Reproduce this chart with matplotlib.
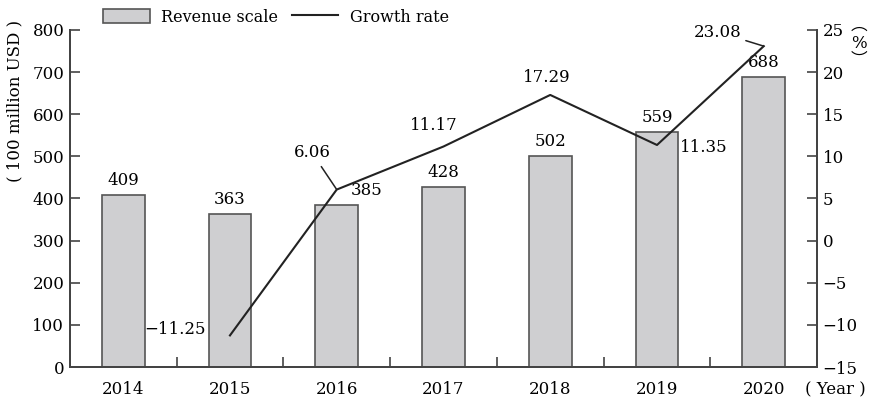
import numpy as np
import matplotlib.pyplot as plt
from matplotlib.ticker import FixedLocator

years = ["2014", "2015", "2016", "2017", "2018", "2019", "2020"]
revenue = [409, 363, 385, 428, 502, 559, 688]
growth = [None, -11.25, 6.06, 11.17, 17.29, 11.35, 23.08]

plt.rcParams['font.family'] = ['DejaVu Serif']
plt.rcParams['font.size'] = 12

fig = plt.figure(figsize=(8.73, 4.03), dpi=100)
ax = fig.add_axes([0.080, 0.0893, 0.856, 0.8363])
ax2 = ax.twinx()

x = np.arange(len(years))
bars = ax.bar(x, revenue, width=0.4, color="#cfcfd1", edgecolor="#555555",
              linewidth=1.2, label="Revenue scale")

gx = [i for i, g in enumerate(growth) if g is not None]
gy = [g for g in growth if g is not None]
line, = ax2.plot(gx, gy, color="#222222", linewidth=1.5, label="Growth rate")

ax.set_xlim(-0.5, 6.5)
ax.set_ylim(0, 800)
ax2.set_ylim(-15, 25)
ax.set_yticks(range(0, 801, 100))
ax2.set_yticks(range(-15, 26, 5))
ax2.set_yticklabels([str(v).replace("-", "\u2212") for v in range(-15, 26, 5)])

ax.set_xticks(x)
ax.set_xticklabels(years)
ax.xaxis.set_minor_locator(FixedLocator(np.arange(0.5, 6, 1)))
ax.tick_params(axis="x", which="major", length=0, pad=10)
ax.tick_params(axis="x", which="minor", direction="in", length=7, width=1.2, color="#444444")
ax.tick_params(axis="y", direction="in", length=7, width=1.2, color="#444444", pad=4)
ax2.tick_params(axis="y", direction="in", length=7, width=1.2, color="#444444", pad=4)

for a in (ax, ax2):
    a.spines["top"].set_visible(False)
    for s in ("left", "right", "bottom"):
        a.spines[s].set_color("#444444")
        a.spines[s].set_linewidth(1.4)

# bar value labels
bar_offsets = {2: (0.28, 14)}
for i, v in enumerate(revenue):
    dx, dy = bar_offsets.get(i, (0, 14))
    ax.text(i + dx, v + dy, str(v), ha="center", va="bottom")

# growth labels
ax2.text(0.77, -10.6, "\u221211.25", ha="right", va="center")
ax2.annotate("6.06", xy=(2, 6.06), xytext=(1.77, 10.4), ha="center", va="center",
             arrowprops=dict(arrowstyle="-", color="#222222", lw=1.1, shrinkA=2, shrinkB=0))
ax2.text(2.905, 13.7, "11.17", ha="center", va="center")
ax2.text(3.97, 19.4, "17.29", ha="center", va="center")
ax2.text(5.44, 11.1, "11.35", ha="center", va="center")
ax2.annotate("23.08", xy=(6, 23.08), xytext=(5.57, 24.76), ha="center", va="center",
             arrowprops=dict(arrowstyle="-", color="#222222", lw=1.1, shrinkA=1, shrinkB=0))

# axis titles
fig.text(15 / 873, 1 - 101 / 403, "( 100 million USD )", rotation=90, ha="center", va="center")
fig.text(859 / 873, 1 - 25 / 403, "\ufe35", family="Noto Sans CJK SC", fontsize=12,
         ha="center", va="center")
fig.text(859 / 873, 1 - 43 / 403, "%", ha="center", va="center")
fig.text(859 / 873, 1 - 60 / 403, "\ufe36", family="Noto Sans CJK SC", fontsize=12,
         ha="center", va="center")
fig.text(835 / 873, 1 - 390 / 403, "( Year )", ha="center", va="center")

fig.legend([bars, line], ["Revenue scale", "Growth rate"], loc="center",
           bbox_to_anchor=(276 / 873, 1 - 17 / 403), ncol=2, frameon=False,
           fontsize=11.5, handlelength=2.9, handleheight=1.0, columnspacing=0.9,
           handletextpad=0.7)

fig.savefig("out.png", dpi=100)
